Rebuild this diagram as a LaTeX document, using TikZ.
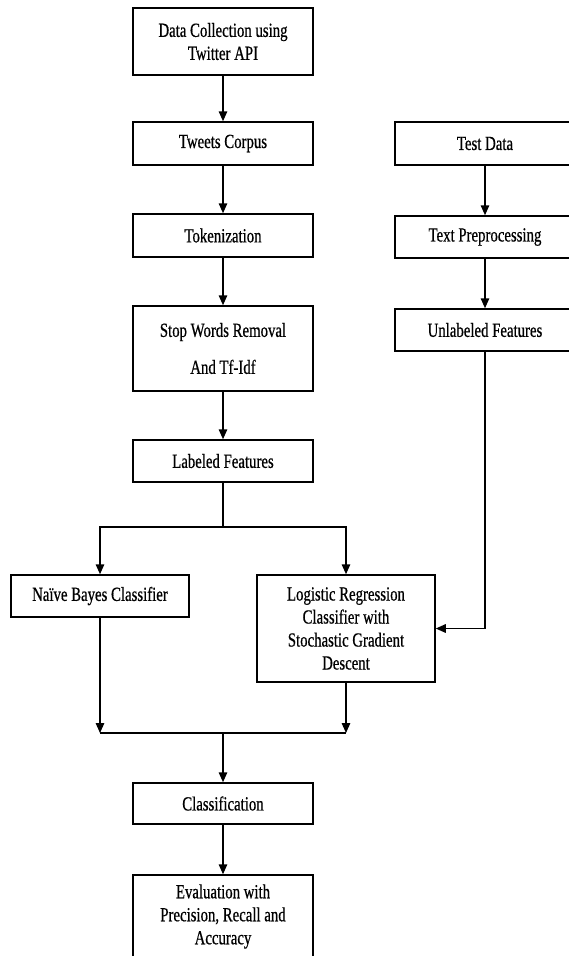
\documentclass[tikz,border=0pt]{standalone}
\usepackage{fontspec}
\setmainfont{Liberation Serif}[FakeStretch=0.74,FakeBold=0.6]
\usetikzlibrary{arrows.meta}
\begin{document}
\begin{tikzpicture}[x=1pt,y=-1pt,
  box/.style={draw, line width=1.5pt, align=center, inner sep=0pt, minimum width=180pt,
    font=\fontsize{20}{23}\selectfont},
  arr/.style={line width=1.5pt, -{Triangle[length=10pt,width=8.5pt]}},
  ln/.style={line width=1.5pt}]
\clip (0,0) rectangle (569,956);
\fill[white] (0,0) rectangle (569,956);
% left column
\node[box, minimum height=67pt] (dc) at (223,41.5) {Data Collection using\\Twitter API};
\node[box, minimum height=43pt] (tc) at (223,143.5) {Tweets Corpus};
\node[box, minimum height=43pt] (tok) at (223,235.5) {Tokenization};
\node[box, minimum height=85pt] (sw) at (223,348.5) {Stop Words Removal\\[14pt]And Tf-Idf};
\node[box, minimum height=42pt] (lf) at (223,461) {Labeled Features};
% right column
\node[box, minimum height=43pt] (td) at (485,143.5) {Test Data};
\node[box, minimum height=42pt] (tp) at (485,237) {Text Preprocessing};
\node[box, minimum height=42pt] (uf) at (485,330) {Unlabeled Features};
% classifiers
\node[box, minimum width=178pt, minimum height=42pt] (nb) at (100,596) {Naïve Bayes Classifier};
\node[box, minimum width=178pt, minimum height=107pt] (lr) at (346,628.5) {Logistic Regression\\Classifier with\\Stochastic Gradient\\Descent};
% bottom
\node[box, minimum height=41pt] (cls) at (223,803.5) {Classification};
\node[box, minimum height=83pt] (ev) at (223,916.5) {Evaluation with\\Precision, Recall and\\Accuracy};
% connectors
\draw[arr] (dc) -- (tc);
\draw[arr] (tc) -- (tok);
\draw[arr] (tok) -- (sw);
\draw[arr] (sw) -- (lf);
\draw[arr] (td) -- (tp);
\draw[arr] (tp) -- (uf);
\coordinate (br) at (223,527);
\draw[ln] (lf.south) -- (br);
\draw[arr] (br) -| (nb.north);
\draw[arr] (br) -| (lr.north);
\draw[arr] (uf.south) |- (lr.east);
\coordinate (ml) at (100,733);
\coordinate (mr) at (346,733);
\coordinate (mc) at (223,733);
\draw[arr] (nb.south) -- (ml);
\draw[arr] (lr.south) -- (mr);
\draw[ln] (ml) -- (mr);
\draw[arr] (mc) -- (cls.north);
\draw[arr] (cls) -- (ev);
\end{tikzpicture}
\end{document}
